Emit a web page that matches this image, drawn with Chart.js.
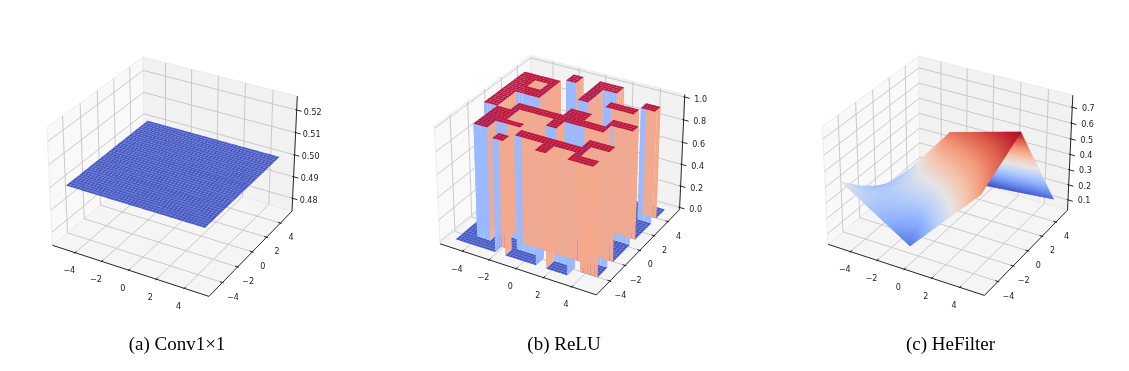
<!DOCTYPE html>
<html>
<head>
<meta charset="utf-8">
<script src="https://cdn.jsdelivr.net/npm/chart.js@4"></script>
<style>
  html, body { margin: 0; background: #fff; overflow: hidden; }
  canvas { position: absolute; top: 0; }
</style>
</head>
<body>
<canvas id="canvasA" width="354" height="371" style="left:0"></canvas>
<canvas id="canvasB" width="420" height="371" style="left:354px"></canvas>
<canvas id="canvasC" width="353" height="371" style="left:774px"></canvas>
<script>
var xyTicks = [-4, -2, 0, 2, 4];
var xyLabels = ['\u22124', '\u22122', '0', '2', '4'];

var convTicks = [0.48, 0.49, 0.50, 0.51, 0.52];
var convLabels = ['0.48', '0.49', '0.50', '0.51', '0.52'];
var reluTicks = [0, 0.2, 0.4, 0.6, 0.8, 1];
var reluLabels = ['0.0', '0.2', '0.4', '0.6', '0.8', '1.0'];
var heTicks = [0.1, 0.2, 0.3, 0.4, 0.5, 0.6, 0.7];
var heLabels = ['0.1', '0.2', '0.3', '0.4', '0.5', '0.6', '0.7'];

// mesh used by the flat and the ReLU surface
var meshCoords = [-5, -4.75, -4.5, -4.25, -4, -3.75, -3.5, -3.25, -3, -2.75, -2.5, -2.25, -2, -1.75, -1.5, -1.25,
  -1, -0.75, -0.5, -0.25, 0, 0.25, 0.5, 0.75, 1, 1.25, 1.5, 1.75, 2, 2.25, 2.5, 2.75, 3, 3.25, 3.5, 3.75,
  4, 4.25, 4.5, 4.75, 5];

var convLevel = 0.5;

// areas where ReLU is 1, [x0, x1, y0, y1], 0 everywhere else
var reluOnBlocks = [
  [-5, -3.75, 1, 3.75], [-3.75, -2.75, 1, 2], [-3.75, -2.75, 3, 3.75], [-2.75, -2.25, 1, 3.75],
  [-5, -4, -1.25, 1], [-4, -3, -4, -1.25], [-3, -2.5, -3, -1], [-2.5, -1.25, -3, -2.5],
  [-2, -1.25, -5, -4.25], [-3, 3.5, -1, -0.25], [0, 0.75, -2, -1], [0.25, 1.75, -0.25, 0.75],
  [3.25, 3.5, -0.25, 0.75], [3.5, 5, 0, 0.75], [-1, 3.75, -4, -3.25], [1, 1.75, -5, -4],
  [3.25, 3.75, -5, -2.25], [3.75, 5, -3, -2.25], [3.75, 5, -5, -4.25], [-2, -1.25, 4, 5],
  [0, 0.75, 2, 5], [0.75, 1.75, 4, 5], [2, 4, 2, 2.75], [4, 5, 3, 3.75]
];

var heX = [-5, -4, -3, -2, -1, 0, 1, 2, 3, 4, 5];
var heY = [-5, -4, -3, -2, -1, 0, 1, 2, 3, 4, 5];
// one row per heY value
var heValues = [
  [0.420, 0.365, 0.310, 0.255, 0.200, 0.145, 0.236, 0.327, 0.418, 0.509, 0.600],
  [0.362, 0.338, 0.315, 0.291, 0.268, 0.244, 0.322, 0.399, 0.477, 0.554, 0.632],
  [0.304, 0.312, 0.320, 0.327, 0.335, 0.343, 0.407, 0.471, 0.536, 0.600, 0.664],
  [0.246, 0.285, 0.324, 0.364, 0.403, 0.442, 0.493, 0.544, 0.594, 0.645, 0.696],
  [0.188, 0.259, 0.329, 0.400, 0.470, 0.541, 0.578, 0.616, 0.653, 0.691, 0.728],
  [0.130, 0.232, 0.334, 0.436, 0.538, 0.640, 0.664, 0.688, 0.712, 0.736, 0.760],
  [0.120, 0.202, 0.283, 0.365, 0.446, 0.528, 0.549, 0.570, 0.590, 0.611, 0.632],
  [0.110, 0.171, 0.232, 0.294, 0.355, 0.416, 0.434, 0.451, 0.469, 0.486, 0.504],
  [0.100, 0.141, 0.182, 0.222, 0.263, 0.304, 0.318, 0.333, 0.347, 0.362, 0.376],
  [0.090, 0.110, 0.131, 0.151, 0.172, 0.192, 0.203, 0.214, 0.226, 0.237, 0.248],
  [0.080, 0.080, 0.080, 0.080, 0.080, 0.080, 0.088, 0.096, 0.104, 0.112, 0.120]
];

var coolwarm = ['#3b4cc0', '#6282ea', '#8db0fe', '#b8d0f9', '#e6e4e4', '#f5c4ac', '#f49a7b', '#dc5d4a', '#b40426'];

var PX_SCALE = 1505;
var AREA_H = 333.6;
var XY_LIM = 5.5;
var XY_BOX = 5.5 * 25 / 24;
var ASPECT_XY = 1.1429;
var ASPECT_Z = 0.8571;

var cosA = 0.5, sinA = -Math.sqrt(3) / 2, cosE = Math.sqrt(3) / 2, sinE = 0.5;

// same camera as a default mplot3d axes: elev 30, azim -60, dist 10
function project(x, y, z, zlim) {
  var a = x / (2 * XY_LIM) * ASPECT_XY;
  var b = y / (2 * XY_LIM) * ASPECT_XY;
  var c = (z - (zlim[0] + zlim[1]) / 2) / (zlim[1] - zlim[0]) * ASPECT_Z;
  var u = -sinA * a + cosA * b;
  var v = -sinE * cosA * a - sinE * sinA * b + cosE * c;
  var n = cosE * cosA * a + cosE * sinA * b + sinE * c;
  return { x: u / (10 - n), y: v / (10 - n), depth: n };
}

function polyDataset(verts, size, zlim, fill, extra) {
  var ds = {
    type: 'scatter', showLine: false, pointRadius: 0,
    data: verts.map(function (p) { var q = project(p[0], p[1], p[2], zlim); return { x: q.x, y: q.y }; }),
    polySize: size, polyFill: fill
  };
  return Object.assign(ds, extra || {});
}

function lineDataset(pts, zlim, color, width) {
  return {
    type: 'scatter', showLine: true, pointRadius: 0, borderColor: color, borderWidth: width,
    data: pts.map(function (p) { var q = project(p[0], p[1], p[2], zlim); return { x: q.x, y: q.y }; })
  };
}

function axesDatasets(zlim, zTicks) {
  var zPad = (zlim[1] - zlim[0]) / 48;
  var zLo = zlim[0] - zPad, zHi = zlim[1] + zPad, B = XY_BOX;
  var out = [];
  out.push(polyDataset([[-B, -B, zLo], [-B, B, zLo], [-B, B, zHi], [-B, -B, zHi]], 4, zlim, '#f9f9f9', { polyEdge: '#e9e9e9' }));
  out.push(polyDataset([[-B, B, zLo], [B, B, zLo], [B, B, zHi], [-B, B, zHi]], 4, zlim, '#f2f2f2', { polyEdge: '#e9e9e9' }));
  out.push(polyDataset([[-B, -B, zLo], [B, -B, zLo], [B, B, zLo], [-B, B, zLo]], 4, zlim, '#f5f5f5', { polyEdge: '#e9e9e9' }));

  var grid = '#c4c4c4';
  xyTicks.forEach(function (t) {
    out.push(lineDataset([[t, -B, zLo], [t, B, zLo], [t, B, zHi]], zlim, grid, 0.9));
    out.push(lineDataset([[B, t, zLo], [-B, t, zLo], [-B, t, zHi]], zlim, grid, 0.9));
  });
  zTicks.forEach(function (t) {
    out.push(lineDataset([[-B, -B, t], [-B, B, t], [B, B, t]], zlim, grid, 0.9));
  });

  out.push(lineDataset([[-B, -B, zLo], [B, -B, zLo]], zlim, '#111', 0.9));
  out.push(lineDataset([[B, -B, zLo], [B, B, zLo]], zlim, '#111', 0.9));
  out.push(lineDataset([[B, B, zLo], [B, B, zHi]], zlim, '#111', 0.9));
  xyTicks.forEach(function (t) {
    out.push(lineDataset([[t, -B + 0.18, zLo], [t, -B - 0.09, zLo]], zlim, '#111', 0.9));
    out.push(lineDataset([[B - 0.18, t, zLo], [B + 0.09, t, zLo]], zlim, '#111', 0.9));
  });
  zTicks.forEach(function (t) {
    out.push(lineDataset([[B - 0.09, B, t], [B + 0.35, B, t]], zlim, '#111', 0.9));
  });
  return out;
}

function textLabels(zlim, zTicks, zLabels, zDy) {
  var zPad = (zlim[1] - zlim[0]) / 48;
  var zLo = zlim[0] - zPad, B = XY_BOX;
  var out = [];
  xyTicks.forEach(function (t, i) {
    out.push({ p: project(t, -B, zLo, zlim), text: xyLabels[i], dx: -5.8, dy: 18.5 });
    out.push({ p: project(B, t, zLo, zlim), text: xyLabels[i], dx: 10.5, dy: 15 });
  });
  zTicks.forEach(function (t, i) {
    out.push({ p: project(B, B, t, zlim), text: zLabels[i], dx: 16, dy: zDy });
  });
  return out;
}

function convSurface(zlim) {
  var verts = [];
  for (var i = 0; i < meshCoords.length - 1; i++) {
    for (var j = 0; j < meshCoords.length - 1; j++) {
      var x0 = meshCoords[i], x1 = meshCoords[i + 1], y0 = meshCoords[j], y1 = meshCoords[j + 1];
      verts.push([x0, y0, convLevel], [x1, y0, convLevel], [x1, y1, convLevel], [x0, y1, convLevel]);
    }
  }
  return [polyDataset(verts, 4, zlim, '#4558c4')];
}

function reluIsOn(i, j) {
  var cx = (meshCoords[i] + meshCoords[i + 1]) / 2, cy = (meshCoords[j] + meshCoords[j + 1]) / 2;
  return reluOnBlocks.some(function (r) { return cx > r[0] && cx < r[1] && cy > r[2] && cy < r[3]; });
}

function reluSurface(zlim) {
  var floor = [], top = [], walls = [];
  var n = meshCoords.length - 1;
  var BLUE = '#9bb9ff', SALMON = '#f5a98c';
  // far sides of a ridge come out on top of its near side in the reference, hence the bias
  function farSideBias(y) { return y < -3 ? 0.2 : 0.09; }
  function addWall(a, b, color, bias) {
    var depth = project((a[0] + b[0]) / 2, (a[1] + b[1]) / 2, 0.5, zlim).depth + bias;
    walls.push({ depth: depth, color: color, verts: [[a[0], a[1], 0], [b[0], b[1], 0], [b[0], b[1], 1], [a[0], a[1], 1]] });
  }
  for (var i = 0; i < n; i++) {
    for (var j = 0; j < n; j++) {
      var x0 = meshCoords[i], x1 = meshCoords[i + 1], y0 = meshCoords[j], y1 = meshCoords[j + 1];
      var on = reluIsOn(i, j);
      var z = on ? 1 : 0;
      (on ? top : floor).push([x0, y0, z], [x1, y0, z], [x1, y1, z], [x0, y1, z]);
      if (i < n - 1 && on !== reluIsOn(i + 1, j)) {
        addWall([x1, y0], [x1, y1], on ? SALMON : BLUE, 0);
      }
      if (j < n - 1 && on !== reluIsOn(i, j + 1)) {
        addWall([x0, y1], [x1, y1], on ? SALMON : BLUE, on ? farSideBias(y1) : 0);
      }
    }
  }
  walls.sort(function (p, q) { return p.depth - q.depth; });
  var wallVerts = [];
  walls.forEach(function (w) { wallVerts.push(w.verts[0], w.verts[1], w.verts[2], w.verts[3]); });
  return [
    polyDataset(floor, 4, zlim, '#4358c6'),
    polyDataset(wallVerts, 4, zlim, null, { polyFills: walls.map(function (w) { return w.color; }) }),
    polyDataset(top, 4, zlim, '#b9143f')
  ];
}

function heSurface(zlim) {
  var tris = [];
  for (var j = 0; j < heY.length - 1; j++) {
    for (var i = 0; i < heX.length - 1; i++) {
      var a = [heX[i], heY[j], heValues[j][i]];
      var b = [heX[i + 1], heY[j], heValues[j][i + 1]];
      var c = [heX[i + 1], heY[j + 1], heValues[j + 1][i + 1]];
      var d = [heX[i], heY[j + 1], heValues[j + 1][i]];
      tris.push([a, b, c], [a, c, d]);
    }
  }
  tris.sort(function (p, q) {
    var dp = project(p[0][0], p[0][1], p[0][2], zlim).depth + project(p[1][0], p[1][1], p[1][2], zlim).depth + project(p[2][0], p[2][1], p[2][2], zlim).depth;
    var dq = project(q[0][0], q[0][1], q[0][2], zlim).depth + project(q[1][0], q[1][1], q[1][2], zlim).depth + project(q[2][0], q[2][1], q[2][2], zlim).depth;
    return dp - dq;
  });
  var verts = [];
  tris.forEach(function (t) { verts.push(t[0], t[1], t[2]); });
  return [polyDataset(verts, 3, zlim, null, {
    vertexZ: verts.map(function (v) { return v[2]; }), zMin: 0.08, zMax: 0.76
  })];
}

function blend(t) {
  t = Math.max(0, Math.min(1, t));
  var f = t * (coolwarm.length - 1);
  var i = Math.min(coolwarm.length - 2, Math.floor(f));
  var c0 = Chart.helpers.color(coolwarm[i]).rgb, c1 = Chart.helpers.color(coolwarm[i + 1]).rgb;
  var m = f - i;
  return 'rgb(' + Math.round(c0.r + (c1.r - c0.r) * m) + ',' + Math.round(c0.g + (c1.g - c0.g) * m) + ',' + Math.round(c0.b + (c1.b - c0.b) * m) + ')';
}

function gradientFill(ctx, pts, zs, zMin, zMax) {
  var d = (pts[1].x - pts[0].x) * (pts[2].y - pts[0].y) - (pts[2].x - pts[0].x) * (pts[1].y - pts[0].y);
  var lo = Math.min(zs[0], zs[1], zs[2]), hi = Math.max(zs[0], zs[1], zs[2]);
  if (Math.abs(d) < 0.01 || hi - lo < 1e-4) return blend(((lo + hi) / 2 - zMin) / (zMax - zMin));
  var gx = ((zs[1] - zs[0]) * (pts[2].y - pts[0].y) - (zs[2] - zs[0]) * (pts[1].y - pts[0].y)) / d;
  var gy = ((pts[1].x - pts[0].x) * (zs[2] - zs[0]) - (pts[2].x - pts[0].x) * (zs[1] - zs[0])) / d;
  var g2 = gx * gx + gy * gy;
  var grad = ctx.createLinearGradient(
    pts[0].x + gx * (lo - zs[0]) / g2, pts[0].y + gy * (lo - zs[0]) / g2,
    pts[0].x + gx * (hi - zs[0]) / g2, pts[0].y + gy * (hi - zs[0]) / g2);
  var first = (lo - zMin) / (zMax - zMin), last = (hi - zMin) / (zMax - zMin);
  var segs = coolwarm.length - 1;
  grad.addColorStop(0, blend(first));
  for (var k = 1; k < segs; k++) {
    var t = k / segs;
    if (t > first && t < last) grad.addColorStop((t - first) / (last - first), coolwarm[k]);
  }
  grad.addColorStop(1, blend(last));
  return grad;
}

var polyPlugin = {
  id: 'polyPlugin',
  beforeDatasetDraw: function (chart, args) {
    var ds = chart.data.datasets[args.index];
    if (!ds.polySize) return;
    var ctx = chart.ctx, pts = args.meta.data, size = ds.polySize;
    ctx.save();
    for (var i = 0; i + size <= pts.length; i += size) {
      ctx.beginPath();
      ctx.moveTo(pts[i].x, pts[i].y);
      for (var k = 1; k < size; k++) ctx.lineTo(pts[i + k].x, pts[i + k].y);
      ctx.closePath();
      if (ds.vertexZ) {
        var fill = gradientFill(ctx, [pts[i], pts[i + 1], pts[i + 2]],
          [ds.vertexZ[i], ds.vertexZ[i + 1], ds.vertexZ[i + 2]], ds.zMin, ds.zMax);
        ctx.fillStyle = fill;
        ctx.strokeStyle = fill;
        ctx.lineWidth = 0.7;
        ctx.fill();
        ctx.stroke();
      } else {
        ctx.fillStyle = ds.polyFills ? ds.polyFills[i / size] : ds.polyFill;
        ctx.fill();
        if (ds.polyEdge) {
          ctx.strokeStyle = ds.polyEdge;
          ctx.lineWidth = 0.8;
          ctx.stroke();
        }
      }
    }
    ctx.restore();
  },
  afterDatasetsDraw: function (chart) {
    var ctx = chart.ctx, labels = chart.options.plugins.polyPlugin.labels;
    ctx.save();
    ctx.font = '8px "DejaVu Sans"';
    ctx.fillStyle = '#222';
    ctx.textAlign = 'center';
    ctx.textBaseline = 'middle';
    labels.forEach(function (l) {
      ctx.fillText(l.text, chart.scales.x.getPixelForValue(l.p.x) + l.dx, chart.scales.y.getPixelForValue(l.p.y) + l.dy);
    });
    ctx.restore();
  }
};

function makePanel(id, title, cx, cy, zlim, zTicks, zLabels, zDy, surface) {
  var canvas = document.getElementById(id);
  var datasets = axesDatasets(zlim, zTicks).concat(surface(zlim));
  datasets.forEach(function (d, i) { d.order = -i; });
  return new Chart(canvas, {
    data: { datasets: datasets },
    plugins: [polyPlugin],
    options: {
      responsive: false,
      animation: false,
      events: [],
      layout: { padding: 0 },
      scales: {
        x: { type: 'linear', display: false, min: -cx / PX_SCALE, max: (canvas.width - cx) / PX_SCALE },
        y: { type: 'linear', display: false, min: (cy - AREA_H) / PX_SCALE, max: cy / PX_SCALE }
      },
      plugins: {
        legend: { display: false },
        tooltip: { enabled: false },
        title: {
          display: true, text: title, position: 'bottom', color: '#000',
          font: { family: '"Liberation Serif"', size: 19, weight: 'normal', lineHeight: 1.2 },
          padding: { top: 0, bottom: 14.6 }
        },
        polyPlugin: { labels: textLabels(zlim, zTicks, zLabels, zDy) }
      }
    }
  });
}

var chartA = makePanel('canvasA', '(a) Conv1\u00d71', 174.5, 171, [0.475, 0.525], convTicks, convLabels, 2.5, convSurface);
var chartB = makePanel('canvasB', '(b) ReLU', 208, 169.5, [0, 1], reluTicks, reluLabels, 2.5, reluSurface);
var chartC = makePanel('canvasC', '(c) HeFilter', 176, 170, [0.046, 0.761], heTicks, heLabels, 1.5, heSurface);
</script>
</body>
</html>
